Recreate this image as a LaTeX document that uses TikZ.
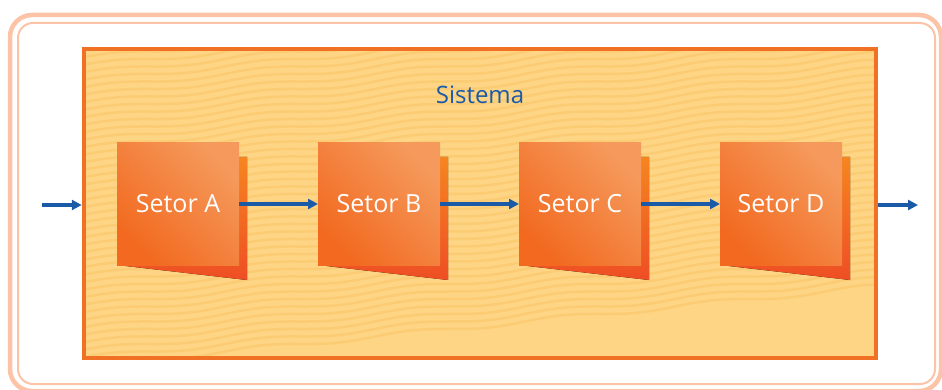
\documentclass[tikz,border=0pt]{standalone}
\usepackage{fontspec}
\setmainfont{Open Sans}
\usetikzlibrary{positioning,arrows.meta}
\definecolor{moldura}{HTML}{FCC3A6}
\definecolor{laranja}{HTML}{F07124}
\definecolor{fundo}{HTML}{FDD585}
\definecolor{listra}{HTML}{FCCC74}
\definecolor{azul}{HTML}{1B5AA7}
\definecolor{setorclaro}{HTML}{F59A5C}
\definecolor{setorescuro}{HTML}{F2691F}
\definecolor{sombraA}{HTML}{F68520}
\definecolor{sombraB}{HTML}{EE4E24}
\pgfdeclarelayer{base}
\pgfdeclarelayer{sombras}
\pgfsetlayers{base,sombras,main}

\begin{document}
\begin{tikzpicture}[x=1pt,y=-1pt,
  sistema/.style={draw=laranja,line width=4.5pt,fill=fundo,minimum width=792pt,minimum height=309pt},
  setor/.style={minimum size=122pt,inner sep=0pt,outer sep=0pt,text=white,
    font=\fontsize{25}{30}\selectfont,top color=setorescuro,bottom color=setorescuro,
    top color=setorclaro,shading angle=-45},
  sombra/.style={top color=sombraA,bottom color=sombraB},
  fluxo/.style={azul,line width=3.2pt,-{Triangle[length=10pt,width=10pt]}}]
  \useasboundingbox (0,0) rectangle (942,390);

  \begin{pgfonlayer}{base}
    % moldura dupla
    \draw[moldura,line width=4.5pt,rounded corners=22pt] (10,15) rectangle (941,391);
    \draw[moldura,line width=2pt,rounded corners=15pt] (18,23) rectangle (935,384);
    \node[sistema] (sys) at (480,203.5) {};
    \begin{scope}
      \clip ([xshift=4.5pt,yshift=4.5pt]sys.south west) rectangle ([xshift=-4.5pt,yshift=-4.5pt]sys.north east);
      \foreach \k in {-12,...,42}
        \draw[listra,line width=2.5pt] plot[domain=80:880,samples=40,smooth]
          (\x,{51+\k*7.5+2.5*sin(2.4*\x)-0.1*(\x-80)});
    \end{scope}
  \end{pgfonlayer}

  \node[text=azul,font=\fontsize{24}{28}\selectfont] (tit) at (480,95) {Sistema};

  \node[setor] (a) at (178,204) {Setor A};
  \node[setor,right=79pt of a] (b) {Setor B};
  \node[setor,right=79pt of b] (c) {Setor C};
  \node[setor,right=79pt of c] (d) {Setor D};

  \begin{pgfonlayer}{sombras}
    \foreach \s in {a,b,c,d}
      \fill[sombra] (\s.south west) -- ([xshift=8pt,yshift=-15pt]\s.south east)
        -- ([xshift=8pt,yshift=-14pt]\s.north east) -- ([yshift=-14pt]\s.north east) -- cycle;
  \end{pgfonlayer}

  \coordinate (ent) at (42,205);
  \coordinate (sai) at (918,205);
  \draw[fluxo] (ent) -- (ent -| sys.west);
  \draw[fluxo] (a) -- (b);
  \draw[fluxo] (b) -- (c);
  \draw[fluxo] (c) -- (d);
  \draw[fluxo] (sys.east |- sai) -- (sai);
\end{tikzpicture}
\end{document}
